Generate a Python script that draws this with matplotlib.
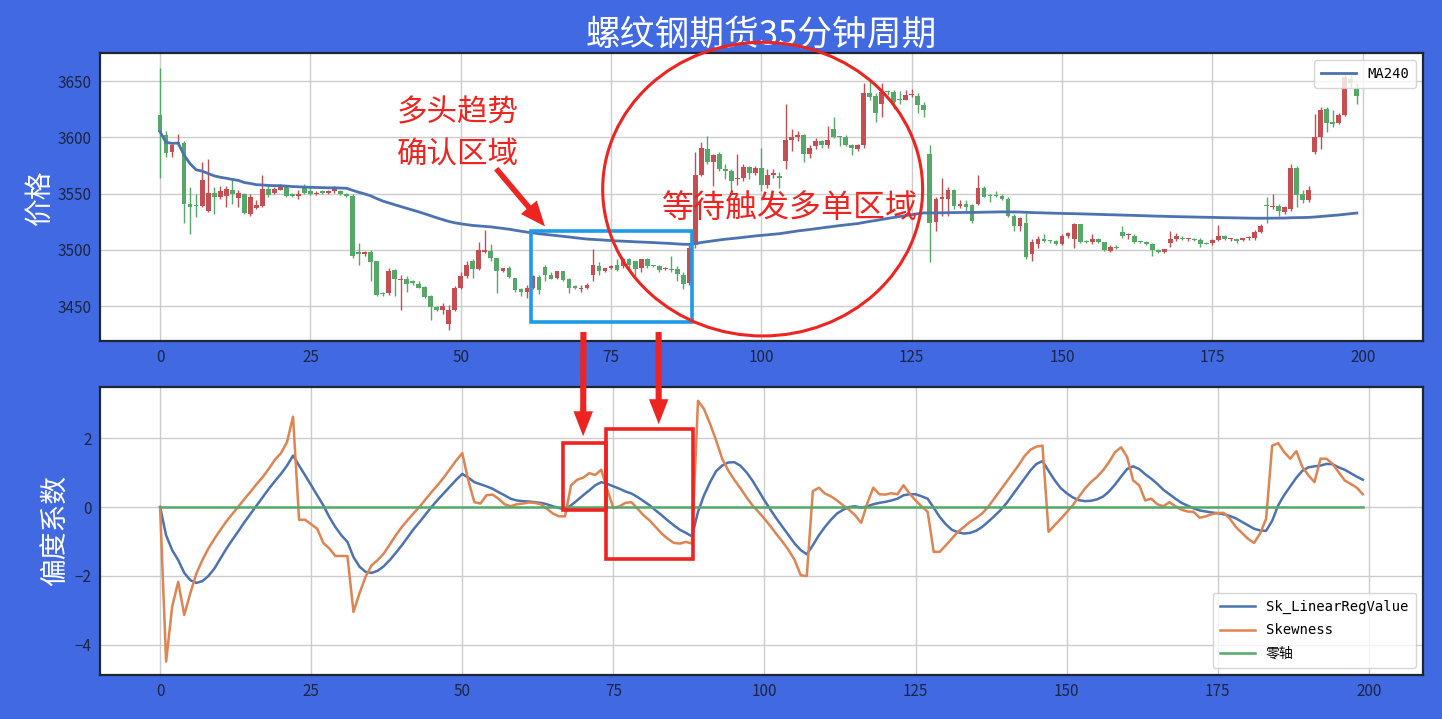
import matplotlib
matplotlib.use('Agg')
import matplotlib.pyplot as plt
import numpy as np
import pandas as pd
from matplotlib.patches import Rectangle, Ellipse, FancyArrowPatch, ConnectionPatch
from matplotlib.font_manager import FontProperties

plt.rcParams['font.family'] = ['Noto Sans CJK SC', 'DejaVu Sans']
plt.rcParams['axes.unicode_minus'] = True

# ---------------- data ----------------
opens = [3620, 3602, 3587, 3594, 3595, 3541, 3540, 3539, 3535, 3551,
         3547, 3548, 3553, 3546, 3550, 3532, 3537, 3539, 3554, 3551,
         3553, 3556, 3550, 3548, 3555, 3552, 3550, 3551.5, 3551, 3552,
         3552, 3550, 3548, 3498, 3496, 3498, 3490, 3462, 3462, 3482,
         3473, 3474, 3472, 3470, 3467, 3459, 3449, 3447, 3434, 3447,
         3466, 3477, 3490, 3483, 3498, 3499, 3493, 3481, 3484, 3475,
         3465, 3463, 3466, 3476, 3485, 3478, 3475, 3481, 3474, 3468,
         3465, 3466, 3478, 3486, 3481, 3484, 3487, 3486, 3492, 3490,
         3484, 3492, 3486.5, 3486, 3483, 3483, 3483, 3478, 3471, 3504,
         3567, 3590, 3578, 3585, 3572, 3570, 3563, 3564, 3574, 3568,
         3573, 3558, 3567, 3566, 3579, 3598, 3600, 3602, 3585, 3592,
         3597, 3593, 3607, 3600.5, 3600, 3593, 3590, 3593, 3639, 3637,
         3630, 3641, 3640, 3633.5, 3633, 3638, 3637, 3629, 3585, 3525,
         3545, 3545, 3553, 3539, 3541, 3540, 3541, 3555, 3549, 3549,
         3548, 3545, 3530, 3521, 3524, 3496, 3505, 3510, 3508, 3507.5,
         3505, 3512, 3510, 3523, 3508, 3507, 3510, 3507, 3499, 3502.5,
         3516, 3513, 3512, 3507.5, 3507, 3505, 3500, 3498, 3506, 3510,
         3510.4, 3509.5, 3509.5, 3509, 3506.5, 3506, 3509, 3512, 3509.5, 3509.5,
         3508.6, 3510.4, 3511, 3516, 3539.5, 3537.7, 3539, 3534, 3536, 3573,
         3550, 3544, 3587, 3600, 3625, 3614, 3613, 3620, 3652, 3643]
highs = [3662, 3606, 3594, 3603, 3597, 3556, 3550, 3578, 3581, 3556,
         3557, 3557, 3562, 3553, 3551, 3550, 3544, 3567, 3557, 3556,
         3559, 3558, 3551, 3553, 3559, 3556, 3552, 3553, 3553, 3557,
         3553, 3551, 3550, 3506, 3499, 3500, 3490, 3463, 3484, 3483,
         3478, 3477, 3473, 3472, 3468, 3460, 3450, 3453, 3451, 3468,
         3480, 3490, 3492, 3507, 3518, 3505, 3493, 3484, 3486, 3475,
         3466, 3469, 3478, 3478, 3487, 3480, 3481, 3481, 3475, 3469,
         3469, 3471, 3501, 3489, 3484, 3487, 3492, 3493, 3493, 3490,
         3492, 3493, 3487, 3487, 3485, 3495, 3486, 3480, 3504, 3587,
         3596, 3601, 3585, 3587, 3576, 3572, 3585, 3576, 3575, 3575,
         3591, 3572, 3572, 3569, 3630, 3607, 3606, 3603, 3593, 3599,
         3598, 3610, 3618, 3601, 3602, 3594, 3594, 3648, 3650, 3639,
         3648, 3642, 3642, 3641, 3642, 3643, 3639, 3631, 3593, 3547,
         3564, 3556, 3554, 3544, 3544, 3541, 3567, 3557, 3550, 3552,
         3550, 3547, 3532, 3529, 3533, 3510, 3512, 3514, 3509, 3509,
         3514, 3516, 3524, 3523, 3509, 3514, 3511, 3507, 3504, 3504,
         3521, 3515, 3514, 3508, 3508, 3506, 3501, 3501, 3517, 3515,
         3512, 3511, 3511, 3511, 3507, 3510, 3522, 3513, 3511, 3510,
         3511, 3512, 3518, 3523, 3547, 3549.6, 3541, 3539, 3576, 3575,
         3553, 3557, 3621, 3627, 3627, 3624, 3622, 3657, 3655, 3648]
lows = [3564, 3583, 3583, 3592, 3524, 3514, 3529, 3538, 3534, 3532,
        3545, 3538, 3541, 3538, 3532, 3530, 3536, 3538, 3547, 3550,
        3553, 3547, 3547, 3545, 3550, 3549, 3549, 3550, 3550, 3551,
        3549, 3547, 3493, 3487, 3495, 3472, 3459, 3459, 3460, 3459,
        3447, 3463, 3469, 3466, 3457, 3438, 3446, 3443, 3429, 3446,
        3465, 3475, 3475, 3482, 3497, 3490, 3462, 3480, 3475, 3463,
        3459, 3457, 3465, 3461, 3472, 3474, 3474, 3472, 3462, 3465,
        3463, 3465, 3472, 3478, 3480, 3483, 3481, 3484, 3484, 3477,
        3480, 3484, 3485, 3480, 3482, 3480, 3472, 3465, 3469, 3502,
        3566, 3576, 3557, 3570, 3563, 3552, 3558, 3561, 3563, 3567,
        3552, 3555, 3564, 3555, 3572, 3588, 3597, 3578, 3582, 3590,
        3591, 3591, 3599, 3592, 3592, 3584, 3588, 3591, 3633, 3614,
        3618, 3638, 3625, 3630, 3633, 3636, 3622, 3618, 3489, 3517,
        3530, 3530, 3536, 3537, 3535, 3524, 3540, 3547, 3543, 3547,
        3544, 3529, 3517, 3517, 3492, 3490, 3502, 3507, 3506, 3504,
        3504, 3511, 3502, 3506, 3506, 3505, 3506, 3499, 3498, 3501,
        3511, 3510, 3506, 3506, 3504, 3495, 3497, 3497, 3503, 3508,
        3509, 3508, 3508, 3503, 3505, 3504, 3508, 3509, 3508, 3506,
        3508, 3509, 3509, 3515, 3524, 3536, 3530, 3532, 3535, 3538,
        3542, 3543, 3585, 3590, 3605, 3609, 3612, 3619, 3645, 3630]
closes = [3605, 3586, 3593, 3596, 3541, 3538, 3539, 3562, 3551, 3547,
          3552, 3554, 3550, 3551, 3533, 3547, 3540, 3554, 3549, 3554,
          3557, 3548, 3548, 3550, 3551, 3550, 3551, 3551, 3552, 3555,
          3550, 3548, 3495, 3496, 3498, 3489, 3460, 3461, 3481, 3474,
          3473.5, 3470, 3471, 3466, 3458, 3449, 3447, 3450, 3447, 3466,
          3477, 3487, 3483, 3500, 3500, 3493, 3481, 3484, 3476, 3464,
          3463, 3466, 3477, 3464, 3478, 3474, 3481, 3473, 3466, 3466,
          3466.5, 3469, 3487, 3481, 3484, 3486, 3482, 3492, 3487, 3483,
          3492, 3486, 3486, 3482, 3484, 3482.5, 3479, 3470, 3502, 3567,
          3591, 3578, 3584, 3572, 3570, 3561, 3564, 3574, 3568, 3573,
          3558, 3567, 3567.5, 3564, 3598, 3600, 3602, 3585, 3591, 3597,
          3593, 3598, 3600, 3600, 3593, 3591, 3593, 3639, 3636, 3622,
          3640, 3640, 3631, 3633, 3638, 3638.5, 3629, 3624, 3524, 3545,
          3547, 3553, 3539, 3541, 3538, 3526, 3555, 3547, 3548, 3548,
          3545, 3530, 3521, 3528, 3494, 3507, 3510, 3508, 3507.5, 3505.5,
          3512, 3515, 3523, 3507, 3507, 3510, 3507, 3500, 3503, 3502,
          3512, 3513.5, 3507, 3507, 3505, 3500, 3498, 3501, 3510, 3512,
          3509.5, 3509.5, 3509, 3505, 3505.6, 3509, 3512, 3509.5, 3509.5, 3508,
          3510.4, 3510.6, 3516, 3521, 3539, 3539.2, 3535, 3538, 3573, 3549,
          3544, 3553, 3600, 3624, 3613, 3612, 3620, 3654, 3648, 3637]

skewness = [0, -4.48, -2.89, -2.17, -3.13, -2.5, -1.93, -1.54, -1.2, -0.92,
            -0.66, -0.41, -0.19, 0.02, 0.24, 0.45, 0.67, 0.87, 1.11, 1.37,
            1.56, 1.88, 2.62, -0.37, -0.37, -0.5, -0.63, -1.04, -1.2, -1.42,
            -1.42, -1.42, -3.04, -2.5, -2.02, -1.69, -1.54, -1.35, -1.09, -0.82,
            -0.58, -0.37, -0.17, 0.02, 0.24, 0.45, 0.65, 0.87, 1.11, 1.35,
            1.56, 0.77, 0.14, 0.1, 0.34, 0.36, 0.24, 0.08, 0.02, 0.08,
            0.1, 0.13, 0.12, 0.08, -0.05, -0.19, -0.27, -0.27, 0.63, 0.79,
            0.85, 0.98, 0.93, 1.08, 0.5, -0.03, 0.02, 0.12, 0.14, -0.05,
            -0.24, -0.39, -0.58, -0.77, -0.92, -1.04, -1.06, -1.01, -1.06, 3.08,
            2.84, 2.41, 1.93, 1.4, 1.06, 0.79, 0.55, 0.29, 0.05, -0.14,
            -0.34, -0.56, -0.79, -1.01, -1.25, -1.54, -1.98, -2.0, 0.46, 0.56,
            0.39, 0.31, 0.19, 0.05, -0.08, -0.24, -0.46, 0.1, 0.56, 0.37,
            0.36, 0.4, 0.37, 0.63, 0.39, 0.19, 0.02, -0.14, -1.3, -1.3,
            -1.11, -0.92, -0.72, -0.58, -0.43, -0.32, -0.19, 0.0, 0.24, 0.48,
            0.72, 0.96, 1.2, 1.47, 1.66, 1.75, 1.78, -0.72, -0.53, -0.35,
            -0.15, 0.05, 0.29, 0.53, 0.72, 0.87, 1.06, 1.3, 1.59, 1.73,
            1.45, 0.77, 0.63, 0.19, 0.24, 0.08, 0.02, 0.14, 0.02, -0.08,
            -0.13, -0.14, -0.31, -0.27, -0.21, -0.17, -0.17, -0.34, -0.58, -0.75,
            -0.92, -1.04, -0.77, -0.34, 1.78, 1.85, 1.59, 1.4, 1.62, 1.16,
            0.92, 0.72, 1.4, 1.4, 1.25, 1.01, 0.77, 0.67, 0.56, 0.37]

sk_linreg = [0, -0.82, -1.25, -1.54, -1.91, -2.12, -2.2, -2.15, -2.0, -1.78,
             -1.49, -1.2, -0.94, -0.69, -0.43, -0.19, 0.05, 0.29, 0.53, 0.75,
             0.96, 1.2, 1.49, 1.2, 0.92, 0.63, 0.34, 0.05, -0.29, -0.58,
             -0.82, -1.01, -1.45, -1.73, -1.88, -1.91, -1.85, -1.72, -1.54, -1.33,
             -1.11, -0.87, -0.63, -0.42, -0.2, 0.02, 0.22, 0.41, 0.6, 0.79,
             0.96, 0.85, 0.72, 0.66, 0.6, 0.53, 0.43, 0.34, 0.24, 0.19,
             0.17, 0.16, 0.14, 0.12, 0.08, 0.02, -0.03, -0.06, 0.05, 0.19,
             0.34, 0.48, 0.63, 0.72, 0.67, 0.6, 0.53, 0.45, 0.39, 0.29,
             0.17, 0.05, -0.1, -0.24, -0.39, -0.53, -0.66, -0.75, -0.85, -0.14,
             0.34, 0.72, 1.04, 1.2, 1.29, 1.3, 1.2, 1.01, 0.77, 0.48,
             0.19, -0.08, -0.34, -0.58, -0.82, -1.06, -1.25, -1.37, -1.11, -0.82,
             -0.58, -0.37, -0.19, -0.08, 0.0, 0.02, -0.02, 0.02, 0.08, 0.12,
             0.15, 0.19, 0.24, 0.34, 0.37, 0.37, 0.31, 0.24, -0.02, -0.29,
             -0.5, -0.66, -0.73, -0.77, -0.75, -0.69, -0.58, -0.43, -0.27, -0.1,
             0.1, 0.34, 0.58, 0.82, 1.06, 1.25, 1.33, 1.05, 0.78, 0.55,
             0.4, 0.28, 0.2, 0.17, 0.18, 0.22, 0.3, 0.45, 0.65, 0.88,
             1.1, 1.18, 1.1, 0.95, 0.82, 0.67, 0.5, 0.37, 0.24, 0.12,
             0.04, -0.04, -0.1, -0.13, -0.16, -0.18, -0.21, -0.26, -0.33, -0.43,
             -0.53, -0.63, -0.68, -0.69, -0.4, 0.05, 0.35, 0.6, 0.85, 1.05,
             1.15, 1.18, 1.2, 1.25, 1.24, 1.15, 1.08, 0.98, 0.88, 0.79]

price_ticks = [3450, 3500, 3550, 3600, 3650]
skew_ticks = [-4, -2, 0, 2]
x_ticks = [0, 25, 50, 75, 100, 125, 150, 175, 200]

title = '螺纹钢期货35分钟周期'
label_top = '价格'
label_bottom = '偏度系数'
note1 = ['多头趋势', '确认区域']
note2 = '等待触发多单区域'

# annotation geometry (data coordinates)
blue_box = (61.6, 3436, 88.5, 3517)          # x0, y0, x1, y1 in price panel
circle = (100.2, 3554, 53.2, 261)            # cx, cy, width, height
red_boxes = [(66.7, -0.09, 73.7, 1.86), (73.8, -1.52, 88.1, 2.26)]
diag_arrow = ((55.6, 3574), (64.3, 3519))
vert_arrows = [((70.4, 3427), (70.0, 2.05)), ((82.9, 3427), (82.5, 2.4))]
note1_pos = [(39.4, 3621.5), (39.4, 3584.2)]
note2_pos = (83.5, 3537)

# ---------------- style ----------------
BG = '#4169E1'
RED = '#C44E52'
GREEN = '#55A868'
BLUE = '#4C72B0'
ORANGE = '#DD8452'
ANN = '#EE2420'
TICKC = '#1c2541'
SPINE = '#1f2633'

fig = plt.figure(figsize=(14.42, 7.19), dpi=100, facecolor=BG)
ax1 = fig.add_axes([0.0693, 0.5257, 0.9175, 0.4006])
ax2 = fig.add_axes([0.0693, 0.0612, 0.9175, 0.4006])

for ax in (ax1, ax2):
    ax.set_facecolor('white')
    ax.grid(True, color='#cccccc', lw=1.0)
    ax.set_axisbelow(True)
    for s in ax.spines.values():
        s.set_color(SPINE)
        s.set_linewidth(1.6)
    ax.tick_params(length=0, labelsize=11, labelcolor=TICKC, pad=6)
    ax.set_xticks(x_ticks)

legend_font = FontProperties(family=['DejaVu Sans Mono', 'Noto Sans CJK SC'], size=10)

# ---------------- price panel ----------------
o = np.array(opens, dtype=float)
h = np.array(highs, dtype=float)
l = np.array(lows, dtype=float)
c = np.array(closes, dtype=float)
x = np.arange(len(o))
cols = np.where(c >= o, RED, GREEN)
ax1.vlines(x, l, h, colors=cols, lw=1.0, zorder=2)
ax1.bar(x, np.maximum(np.abs(c - o), 0.9), width=0.78, bottom=np.minimum(o, c),
        color=cols, zorder=3)
ma = pd.Series(c).rolling(240, min_periods=1).mean()
ax1.plot(x, ma, color=BLUE, lw=2.0, label='MA240', zorder=4)
ax1.set_yticks(price_ticks)
ax1.legend(loc='upper right', prop=legend_font, framealpha=0.8, handlelength=2.5,
           edgecolor='#cccccc', borderpad=0.5)
ax1.set_title(title, color='white', fontsize=25, pad=3)
ax1.set_ylabel(label_top, color='white', fontsize=20, labelpad=2)

# annotations on price panel
bx0, by0, bx1, by1 = blue_box
ax1.add_patch(Rectangle((bx0, by0), bx1 - bx0, by1 - by0, fill=False,
                        ec='#1E9BE6', lw=2.6, zorder=6, clip_on=False))
ax1.add_patch(Ellipse((circle[0], circle[1]), circle[2], circle[3], fill=False,
                      ec=ANN, lw=2.2, zorder=10, clip_on=False))
for txt, (tx, ty) in zip(note1, note1_pos):
    ax1.text(tx, ty, txt, color=ANN, fontsize=22, ha='left', va='center', zorder=11)
ax1.text(note2_pos[0], note2_pos[1], note2, color=ANN, fontsize=23, ha='left',
         va='center', zorder=11)
ax1.add_patch(FancyArrowPatch(diag_arrow[0], diag_arrow[1],
                              arrowstyle='simple,head_length=0.9,head_width=0.75,tail_width=0.2',
                              mutation_scale=20, color=ANN, lw=0, zorder=11,
                              clip_on=False))

# ---------------- skewness panel ----------------
xs = np.arange(len(skewness))
ax2.plot(xs, sk_linreg, color=BLUE, lw=1.8, label='Sk_LinearRegValue', zorder=4)
ax2.plot(xs, skewness, color=ORANGE, lw=1.8, label='Skewness', zorder=4)
ax2.plot(xs, np.zeros(len(xs)), color=GREEN, lw=1.8, label='零轴', zorder=4)
ax2.set_yticks(skew_ticks)
ax2.legend(loc='lower right', prop=legend_font, framealpha=0.8, handlelength=2.5,
           edgecolor='#cccccc', labelspacing=0.65, borderpad=0.55)
ax2.set_ylabel(label_bottom, color='white', fontsize=20, labelpad=3)

for (rx0, ry0, rx1, ry1) in red_boxes:
    ax2.add_patch(Rectangle((rx0, ry0), rx1 - rx0, ry1 - ry0, fill=False,
                            ec=ANN, lw=2.6, zorder=6, clip_on=False))

for (pa, pb) in vert_arrows:
    cp = ConnectionPatch(xyA=pa, coordsA=ax1.transData, xyB=pb, coordsB=ax2.transData,
                         arrowstyle='simple,head_length=0.9,head_width=0.7,tail_width=0.22',
                         mutation_scale=20, color=ANN, lw=0, zorder=12)
    fig.add_artist(cp)

ax1.set_xlim(-10, 210)
ax1.set_ylim(3419, 3675)
ax2.set_xlim(-9.95, 208.95)
ax2.set_ylim(-4.87, 3.48)

fig.savefig('out.png', dpi=100, facecolor=BG)
